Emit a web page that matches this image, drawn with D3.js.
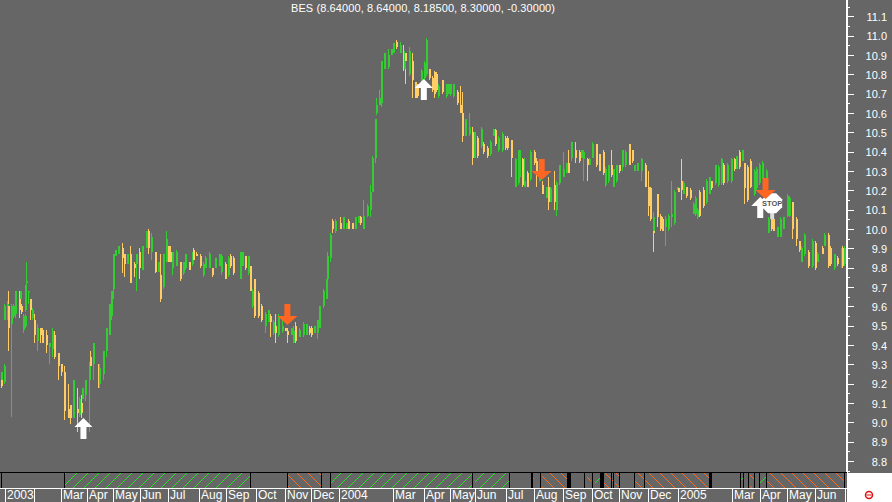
<!DOCTYPE html>
<html><head><meta charset="utf-8">
<script src="https://cdn.jsdelivr.net/npm/d3@7/dist/d3.min.js"></script>
<style>html,body{margin:0;padding:0;background:#fff;overflow:hidden}svg{display:block}text{font-family:"Liberation Sans",Arial,sans-serif;fill:#fff}</style>
</head><body><svg id="c" width="892" height="502"></svg>
<script>
// [session, high, low, open, close]
const barsA=[[1,9.26,9.22,9.22,9.26],[1,9.22,9.18,9.22,9.19],[3,9.30,9.20,9.21,9.29],[3,9.61,9.53,9.53,9.60],[5,9.63,9.53,9.55,9.61],[6,9.68,9.37,9.60,9.49],[8,9.61,9.03,9.51,9.60],[10,9.61,9.54,9.55,9.60],[11,9.68,9.54,9.56,9.68],[14,9.68,9.54,9.64,9.58],[15,9.68,9.64,9.64,9.68],[16,9.61,9.56,9.60,9.57],[17,9.56,9.46,9.48,9.55],[19,9.71,9.57,9.58,9.71],[20,9.83,9.71,9.72,9.73],[19,9.56,9.49,9.50,9.55],[21,9.68,9.61,9.68,9.68],[23,9.64,9.53,9.64,9.58],[24,9.59,9.53,9.54,9.58],[26,9.56,9.41,9.53,9.45],[28,9.51,9.37,9.42,9.49],[30,9.49,9.41,9.49,9.45],[32,9.49,9.41,9.48,9.41],[35,9.48,9.36,9.45,9.40],[37,9.41,9.30,9.39,9.41],[39,9.49,9.34,9.38,9.47],[41,9.47,9.33,9.45,9.34],[44,9.36,9.22,9.36,9.29],[46,9.30,9.24,9.30,9.26],[48,9.29,9.01,9.26,9.06],[51,9.20,9.02,9.07,9.02],[53,9.09,8.99,9.09,9.02],[55,9.22,9.02,9.02,9.22],[58,9.18,8.95,9.07,9.05],[60,9.13,9.03,9.04,9.12],[61,9.14,9.02,9.10,9.05],[62,9.18,9.12,9.12,9.18],[64,9.22,9.11,9.14,9.22],[67,9.31,8.95,9.22,9.31],[68,9.37,9.25,9.34,9.29],[70,9.41,9.22,9.30,9.41],[74,9.30,9.18,9.25,9.22],[75,9.30,9.18,9.20,9.28],[78,9.37,9.22,9.25,9.37],[80,9.49,9.34,9.37,9.49],[82,9.61,9.45,9.45,9.61],[84,9.68,9.53,9.55,9.68],[85,9.87,9.64,9.69,9.87],[87,9.89,9.86,9.86,9.89],[89,9.91,9.87,9.87,9.91],[92,9.93,9.77,9.90,9.85],[94,9.87,9.75,9.87,9.82],[96,9.87,9.82,9.82,9.87],[98,9.91,9.72,9.87,9.72],[101,9.83,9.75,9.82,9.80],[103,9.87,9.68,9.82,9.87],[105,9.90,9.74,9.88,9.80],[107,9.91,9.79,9.79,9.91],[110,9.99,9.90,9.90,9.99],[112,10.00,9.87,9.99,9.90],[114,9.98,9.84,9.88,9.96],[117,9.88,9.77,9.88,9.78],[119,9.83,9.78,9.78,9.83],[121,9.87,9.62,9.76,9.64],[123,9.87,9.69,9.70,9.87],[125,9.99,9.83,9.83,9.95],[127,9.91,9.83,9.91,9.83]];
const barsB=[[128,9.91,9.83,9.88,9.83],[130,9.88,9.76,9.80,9.88],[133,9.89,9.81,9.81,9.88],[136,9.83,9.73,9.83,9.74],[138,9.83,9.76,9.77,9.83],[140,9.87,9.79,9.80,9.87],[143,9.83,9.79,9.83,9.79],[145,9.88,9.81,9.82,9.88],[146,9.90,9.83,9.89,9.84],[148,9.88,9.86,9.87,9.86],[151,9.87,9.80,9.86,9.81],[153,9.83,9.75,9.76,9.82],[155,9.86,9.80,9.80,9.85],[158,9.88,9.80,9.80,9.87],[160,9.80,9.75,9.80,9.76],[162,9.85,9.80,9.80,9.85],[165,9.87,9.81,9.81,9.87],[167,9.87,9.76,9.78,9.86],[170,9.83,9.74,9.82,9.74],[172,9.86,9.75,9.76,9.85],[174,9.87,9.80,9.86,9.81],[176,9.86,9.76,9.85,9.77],[181,9.88,9.74,9.74,9.88],[183,9.88,9.81,9.81,9.88],[185,9.86,9.79,9.86,9.80],[187,9.86,9.76,9.77,9.86],[189,9.81,9.68,9.81,9.68],[190,9.69,9.59,9.60,9.68],[192,9.74,9.54,9.74,9.55],[195,9.68,9.54,9.67,9.55],[197,9.61,9.52,9.60,9.53],[200,9.57,9.46,9.50,9.56],[202,9.58,9.52,9.52,9.58],[204,9.56,9.44,9.55,9.52],[206,9.53,9.45,9.46,9.52],[208,9.56,9.41,9.50,9.46],[210,9.56,9.44,9.45,9.55],[213,9.55,9.46,9.47,9.50],[215,9.49,9.47,9.49,9.47],[217,9.49,9.41,9.47,9.45],[220,9.49,9.45,9.45,9.49],[221,9.50,9.41,9.41,9.47],[223,9.52,9.41,9.50,9.42],[226,9.49,9.44,9.44,9.48],[229,9.52,9.44,9.45,9.51],[231,9.51,9.45,9.45,9.51],[233,9.50,9.45,9.49,9.46],[235,9.50,9.44,9.49,9.45],[237,9.50,9.46,9.46,9.50],[239,9.53,9.43,9.46,9.53],[241,9.60,9.49,9.49,9.60],[244,9.69,9.59,9.60,9.68],[246,9.74,9.64,9.64,9.74],[247,9.88,9.74,9.74,9.86],[249,9.98,9.83,9.85,9.97],[251,10.05,9.98,10.04,10.00],[253,10.05,9.98,9.99,10.04]];
const barsC=[[257,10.06,10.00,10.03,10.00],[259,10.06,10.00,10.00,10.06],[261,10.03,10.00,10.00,10.03],[263,10.05,10.00,10.04,10.00],[266,10.03,10.00,10.03,10.00],[268,10.06,10.00,10.00,10.06],[270,10.07,10.03,10.03,10.07],[272,10.07,10.02,10.06,10.03],[274,10.15,10.00,10.00,10.07],[277,10.13,10.06,10.07,10.12],[279,10.23,10.06,10.10,10.19],[281,10.38,10.19,10.19,10.37],[283,10.57,10.34,10.37,10.57],[284,10.68,10.59,10.60,10.64],[286,10.72,10.64,10.64,10.68],[288,10.87,10.63,10.65,10.87],[290,10.91,10.83,10.83,10.91],[293,10.93,10.83,10.84,10.90],[295,10.93,10.90,10.90,10.93],[297,10.96,10.91,10.91,10.96],[299,10.98,10.93,10.97,10.94],[302,10.97,10.91,10.91,10.95],[304,10.95,10.82,10.91,10.87],[305,10.92,10.83,10.83,10.91],[306,10.91,10.75,10.91,10.87],[309,10.94,10.79,10.80,10.92],[311,10.91,10.68,10.87,10.77],[313,10.76,10.68,10.76,10.68],[315,10.75,10.68,10.75,10.69],[318,10.83,10.72,10.73,10.82],[320,10.87,10.77,10.78,10.86],[322,10.99,10.79,10.80,10.98],[324,10.83,10.77,10.83,10.78],[326,10.79,10.71,10.78,10.72],[328,10.82,10.68,10.81,10.70],[329,10.81,10.71,10.80,10.72],[331,10.75,10.68,10.69,10.74],[334,10.77,10.70,10.77,10.71],[337,10.75,10.68,10.69,10.75],[338,10.75,10.70,10.70,10.75],[340,10.75,10.69,10.70,10.75],[342,10.75,10.68,10.69,10.75],[345,10.72,10.64,10.71,10.65],[347,10.74,10.60,10.64,10.60],[349,10.71,10.45,10.60,10.48],[351,10.57,10.48,10.48,10.57],[354,10.60,10.48,10.49,10.53],[356,10.53,10.33,10.50,10.37],[358,10.50,10.37,10.37,10.50],[360,10.48,10.37,10.47,10.38],[363,10.53,10.42,10.43,10.52],[365,10.45,10.39,10.44,10.40],[368,10.43,10.37,10.42,10.38],[370,10.46,10.38,10.39,10.45],[372,10.52,10.48,10.48,10.52],[374,10.52,10.43,10.51,10.44],[376,10.48,10.40,10.41,10.47],[379,10.50,10.40,10.41,10.49],[381,10.48,10.41,10.47,10.42],[383,10.48,10.41,10.47,10.42]];
const barsD=[[386,10.46,10.27,10.46,10.37],[389,10.37,10.22,10.22,10.36],[391,10.41,10.23,10.24,10.40],[392,10.41,10.27,10.27,10.41],[394,10.37,10.22,10.36,10.23],[396,10.37,10.22,10.22,10.25],[398,10.30,10.22,10.29,10.22],[400,10.41,10.25,10.26,10.40],[403,10.41,10.33,10.40,10.34],[405,10.37,10.22,10.35,10.30],[407,10.32,10.25,10.25,10.31],[409,10.25,10.18,10.23,10.18],[412,10.22,10.16,10.16,10.22],[414,10.27,10.10,10.22,10.14],[415,10.22,10.14,10.14,10.21],[418,10.30,10.10,10.23,10.14],[420,10.25,10.07,10.10,10.24],[422,10.33,10.23,10.24,10.33],[425,10.40,10.27,10.27,10.31],[427,10.34,10.29,10.29,10.34],[429,10.41,10.29,10.34,10.29],[431,10.45,10.35,10.37,10.45],[434,10.45,10.34,10.41,10.37],[437,10.41,10.34,10.40,10.35],[439,10.41,10.37,10.37,10.41],[440,10.41,10.25,10.36,10.40],[443,10.37,10.25,10.36,10.33],[445,10.37,10.33,10.33,10.36],[447,10.45,10.37,10.37,10.44],[450,10.44,10.32,10.44,10.33],[452,10.39,10.30,10.39,10.30],[455,10.41,10.28,10.40,10.29],[457,10.32,10.22,10.23,10.31],[459,10.33,10.24,10.25,10.33],[461,10.41,10.27,10.33,10.28],[463,10.31,10.22,10.22,10.31],[465,10.33,10.24,10.25,10.33],[467,10.33,10.29,10.33,10.30],[470,10.41,10.30,10.32,10.41],[472,10.41,10.32,10.33,10.40],[475,10.44,10.33,10.44,10.33],[477,10.41,10.34,10.41,10.35],[479,10.33,10.30,10.30,10.33],[481,10.34,10.30,10.30,10.34],[484,10.37,10.25,10.30,10.36],[487,10.34,10.22,10.33,10.22],[489,10.30,10.07,10.22,10.12],[491,10.22,10.04,10.21,10.05],[493,9.99,9.88,9.99,9.98],[493,10.09,9.99,9.99,10.06],[496,10.18,10.01,10.18,10.06],[498,10.08,9.99,10.07,10.00],[500,10.06,9.99,10.05,9.99],[502,10.07,9.91,10.01,10.05],[504,10.08,9.99,10.00,10.07],[507,10.25,10.01,10.06,10.08],[509,10.20,10.02,10.03,10.19],[511,10.22,10.20,10.20,10.22],[512,10.21,10.19,10.21,10.19]];
const barsE=[[514,10.36,10.15,10.25,10.20],[516,10.25,10.18,10.18,10.24],[518,10.22,10.16,10.22,10.17],[521,10.21,10.15,10.20,10.16],[523,10.14,10.08,10.08,10.13],[525,10.17,10.07,10.08,10.16],[526,10.11,10.05,10.06,10.10],[528,10.20,10.06,10.19,10.07],[531,10.22,10.11,10.20,10.12],[533,10.26,10.13,10.14,10.25],[535,10.27,10.18,10.18,10.27],[537,10.25,10.20,10.25,10.21],[540,10.33,10.23,10.24,10.33],[542,10.33,10.22,10.23,10.32],[544,10.37,10.23,10.24,10.36],[546,10.34,10.23,10.33,10.24],[549,10.34,10.24,10.25,10.33],[552,10.37,10.24,10.25,10.36],[554,10.37,10.30,10.36,10.31],[556,10.38,10.31,10.31,10.38],[558,10.41,10.31,10.40,10.32],[560,10.41,10.35,10.35,10.41],[562,10.34,10.13,10.34,10.21],[564,10.33,10.14,10.32,10.15],[566,10.36,10.21,10.35,10.22],[569,10.31,10.17,10.18,10.30],[571,10.32,10.20,10.21,10.31],[573,10.34,10.23,10.24,10.33],[575,10.35,10.26,10.26,10.34],[578,10.31,10.24,10.25,10.30],[580,10.06,9.98,9.98,10.05],[582,10.08,9.99,10.07,10.00],[584,10.06,9.99,10.05,9.99],[587,10.01,9.96,9.96,10.01],[589,10.06,9.96,9.96,10.05],[591,10.06,10.00,10.00,10.06],[594,10.18,10.06,10.07,10.17],[596,10.17,10.06,10.07,10.16],[598,10.14,9.95,10.14,10.00],[601,10.06,9.91,10.05,9.95],[603,9.94,9.88,9.94,9.89],[605,9.91,9.83,9.83,9.90],[607,9.98,9.86,9.87,9.97],[610,9.89,9.80,9.88,9.81],[613,9.95,9.80,9.81,9.94],[615,9.94,9.79,9.93,9.80],[617,9.88,9.83,9.83,9.87],[621,9.91,9.87,9.90,9.87],[622,9.98,9.91,9.91,9.97],[625,9.98,9.80,9.97,9.81],[627,9.91,9.81,9.90,9.82],[630,9.87,9.79,9.80,9.87],[632,9.86,9.81,9.85,9.82],[635,9.90,9.80,9.81,9.89],[636,9.91,9.80,9.90,9.81],[637,9.91,9.81,9.82,9.90]];
const priceTicks=[8.8,8.9,9.0,9.1,9.2,9.3,9.4,9.5,9.6,9.7,9.8,9.9,10.0,10.1,10.2,10.3,10.4,10.5,10.6,10.7,10.8,10.9,11.0,11.1];
const minorTicks=[8.75,8.85,8.95,9.05,9.15,9.25,9.35,9.45,9.55,9.65,9.75,9.85,9.95,10.05,10.15,10.25,10.35,10.45,10.55,10.65,10.75,10.85,10.95,11.05,11.15];
// session at which each month label begins
const monthStarts=[4,26,46,66,85,106,127,150,171,193,215,235,256,297,320,340,359,382,403,425,447,467,489,512,553,574,594,615,638];
const monthLabels=["2003","","Mar","Apr","May","Jun","Jul","Aug","Sep","Oct","Nov","Dec","2004","Mar","Apr","May","Jun","Jul","Aug","Sep","Oct","Nov","Dec","2005","Mar","Apr","May","Jun",""];
// trade state: [start session, end session]
const longSpans=[[48,189],[249,356],[359,384],[401,403],[449,454],[559,561],[574,578]];
const shortSpans=[[217,242],[409,428],[443,446],[456,461],[461,463],[464,467],[479,486],[487,535],[566,569],[578,638]];
const flatMarks=[[0.5,1.5],[48,49],[189,190],[217,218],[242,243],[249,250],[356,357],[384,385],[401,402],[402,403],[408,409],[428,431],[441,442],[447,448],[453,454],[454,456],[461,462],[463,464],[467,468],[479,480],[486,487],[535,537],[559,560],[561,562],[565,566],[569,570],[573,574],[578,579],[637,638]];
// signals: [session, price]
const buySignals=[[63,9.022],[320,10.776],[574,10.166]];
const sellSignals=[[217,9.503],[409,10.254],[578,10.155]];
const stopSignals=[[583,10.134]];

const allBars=[...barsA,...barsB,...barsC,...barsD,...barsE];
const svg=d3.select("#c");
const x=d3.scaleLinear().domain([0,638]).range([0,845]);
const y=d3.scaleLinear().domain([8.8,11.1]).range([461,16.4]);
const GREEN="#33cc33",YELLOW="#ffcc66",ORANGE="#ff6622";

svg.append("rect").attr("width",892).attr("height",502).attr("fill","#fff");
svg.append("rect").attr("width",847).attr("height",502).attr("fill","#666");
svg.append("rect").attr("x",847).attr("width",45).attr("height",473).attr("fill","#666");

const defs=svg.append("defs");
function hatch(id,color,d){
  const p=defs.append("pattern").attr("id",id).attr("patternUnits","userSpaceOnUse").attr("width",11).attr("height",11);
  p.append("path").attr("d",d).attr("stroke",color).attr("stroke-width",1).attr("fill","none").attr("shape-rendering","crispEdges");
}
hatch("hg","#22e022","M0 11L11 0");
hatch("ho","#ff6a1a","M0 0L11 11");

// bars
const px=d=>Math.round(x(d[0]));
const g=svg.append("g").attr("shape-rendering","crispEdges");
const col=d=>d[4]>=d[3]?GREEN:YELLOW;
g.selectAll("rect.w").data(allBars).join("rect").attr("class","w")
 .attr("x",px).attr("width",1).attr("y",d=>y(d[1])).attr("height",d=>Math.max(1,y(d[2])-y(d[1]))).attr("fill",col);
g.selectAll("rect.b").data(allBars).join("rect").attr("class","b")
 .attr("x",px).attr("width",2).attr("y",d=>y(Math.max(d[3],d[4]))).attr("height",d=>Math.max(1,Math.abs(y(d[3])-y(d[4])))).attr("fill",col);

// signals
const up=svg.append("g").attr("fill","#fff");
up.selectAll("path").data(buySignals).join("path")
 .attr("transform",d=>`translate(${x(d[0])},${y(d[1])})`)
 .attr("d","M0 0L9 9H3V21H-3V9H-9Z");
const st=svg.append("g");
const sg=st.selectAll("g").data(stopSignals).join("g").attr("transform",d=>`translate(${x(d[0])},${y(d[1])})`);
sg.append("rect").attr("x",-2).attr("y",5).attr("width",4).attr("height",11).attr("fill","#ddd");
sg.append("path").attr("fill","#fff").attr("d","M-4 -10H4L10 -4V4L4 10H-4L-10 4V-4Z");
sg.append("text").attr("text-anchor","middle").attr("y",3).attr("font-size",7.5).attr("font-weight","bold").style("fill","#555").text("STOP");
const dn=svg.append("g").attr("fill",ORANGE);
dn.selectAll("path").data(sellSignals).join("path")
 .attr("transform",d=>`translate(${x(d[0])},${y(d[1])})`)
 .attr("d","M0 0L-10 -9H-3V-21H3V-9H10Z");

// title
svg.append("text").attr("x",423).attr("y",12).attr("text-anchor","middle").attr("font-size",11).attr("textLength",264).text("BES (8.64000, 8.64000, 8.18500, 8.30000, -0.30000)");

// right axis
const axG=svg.append("g").attr("transform","translate(846,0)");
const ax=axG.append("g").call(d3.axisRight(y).tickValues(priceTicks).tickSize(8).tickFormat(d3.format(".1f")));
ax.select(".domain").remove();
ax.selectAll("line").attr("stroke","#fff").attr("shape-rendering","crispEdges");
ax.selectAll("text").attr("x",41).attr("y",0.5).attr("text-anchor","end").attr("font-size",11).attr("font-family","Liberation Sans").style("fill","#fff");
const mn=axG.append("g");
mn.selectAll("line").data(minorTicks).join("line").attr("x1",0).attr("x2",4).attr("y1",d=>Math.round(y(d))+.5).attr("y2",d=>Math.round(y(d))+.5).attr("stroke","#fff").attr("shape-rendering","crispEdges");
svg.append("rect").attr("x",846).attr("y",0).attr("width",2).attr("height",473).attr("fill","#fff");

// ribbon
const rT=473,rH=15;
const rib=svg.append("g").attr("shape-rendering","crispEdges");
rib.selectAll("rect.l").data(longSpans).join("rect").attr("class","l").attr("x",d=>x(d[0])).attr("y",rT).attr("width",d=>x(d[1])-x(d[0])).attr("height",rH).attr("fill","url(#hg)");
rib.selectAll("rect.s").data(shortSpans).join("rect").attr("class","s").attr("x",d=>x(d[0])).attr("y",rT).attr("width",d=>x(d[1])-x(d[0])).attr("height",rH).attr("fill","url(#ho)");
rib.selectAll("rect.f").data(flatMarks).join("rect").attr("class","f").attr("x",d=>Math.round(x(d[0]))).attr("y",rT).attr("width",d=>Math.max(1,Math.round(x(d[1])-x(d[0])))).attr("height",rH).attr("fill","#000");
svg.append("rect").attr("x",0).attr("y",472).attr("width",847).attr("height",1).attr("fill","#000");

// date axis
svg.append("rect").attr("x",0).attr("y",488).attr("width",847).attr("height",1).attr("fill","#fff");
const dates=svg.append("g").attr("shape-rendering","crispEdges");
dates.selectAll("rect").data(monthStarts).join("rect").attr("x",d=>Math.round(x(d))).attr("y",488).attr("width",1).attr("height",14).attr("fill","#fff");
svg.append("g").selectAll("text").data(monthLabels).join("text")
 .attr("x",(d,i)=>Math.round(x(monthStarts[i]))+2).attr("y",499).attr("font-size",12).text(d=>d);

// status icon
const ic=svg.append("g").attr("transform","translate(869,495)");
ic.append("circle").attr("r",3.5).attr("fill","none").attr("stroke","#e01010").attr("stroke-width",1.5);
ic.append("rect").attr("x",-2.5).attr("y",-0.5).attr("width",5).attr("height",1).attr("fill","#e01010");
</script></body></html>
